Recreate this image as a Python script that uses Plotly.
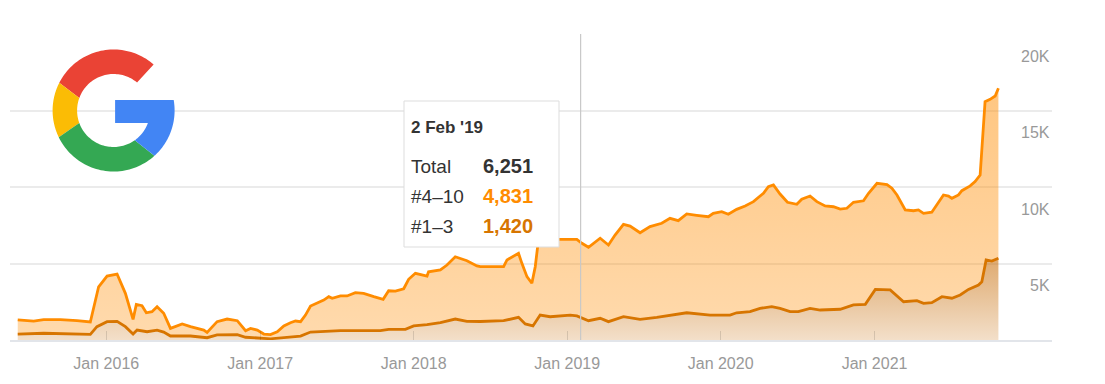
import numpy as np
import plotly.graph_objects as go
from datetime import datetime, timedelta

# ---------------- data (dates as decimal years, values in thousands) ----------------
total_t = [2015.423, 2015.527, 2015.592, 2015.701, 2015.809, 2015.896, 2015.950, 2016.005, 2016.070, 2016.124,
           2016.174, 2016.195, 2016.232, 2016.260, 2016.297, 2016.330, 2016.373, 2016.417, 2016.493, 2016.547,
           2016.633, 2016.655, 2016.720, 2016.785, 2016.851, 2016.905, 2016.937, 2016.981, 2017.024, 2017.067,
           2017.111, 2017.154, 2017.197, 2017.230, 2017.263, 2017.295, 2017.328, 2017.382, 2017.414, 2017.447,
           2017.469, 2017.523, 2017.566, 2017.620, 2017.674, 2017.740, 2017.801, 2017.837, 2017.881, 2017.935,
           2017.967, 2018.011, 2018.055, 2018.087, 2018.097, 2018.174, 2018.217, 2018.271, 2018.347, 2018.412,
           2018.434, 2018.586, 2018.608, 2018.683, 2018.705, 2018.738, 2018.770, 2018.792, 2018.813, 2018.857,
           2019.063, 2019.096, 2019.139, 2019.171, 2019.215, 2019.269, 2019.312, 2019.367, 2019.410, 2019.475,
           2019.540, 2019.616, 2019.670, 2019.724, 2019.779, 2019.844, 2019.920, 2019.952, 2020.007, 2020.050,
           2020.104, 2020.159, 2020.213, 2020.278, 2020.310, 2020.343, 2020.386, 2020.434, 2020.495, 2020.527,
           2020.581, 2020.625, 2020.679, 2020.733, 2020.777, 2020.820, 2020.863, 2020.928, 2020.961, 2021.016,
           2021.081, 2021.113, 2021.146, 2021.200, 2021.254, 2021.286, 2021.319, 2021.373, 2021.406, 2021.449,
           2021.482, 2021.504, 2021.547, 2021.569, 2021.623, 2021.655, 2021.688, 2021.699, 2021.720, 2021.753,
           2021.786, 2021.807]
total_k = [1.31, 1.24, 1.33, 1.33, 1.26, 1.18, 3.48, 4.18, 4.31, 3.05,
           1.35, 2.33, 2.24, 1.78, 1.85, 2.18, 1.75, 0.76, 1.05, 0.87,
           0.65, 0.50, 1.20, 1.37, 1.26, 0.61, 0.76, 0.65, 0.39, 0.35,
           0.54, 0.92, 1.13, 1.24, 1.20, 1.63, 2.22, 2.48, 2.61, 2.83,
           2.73, 2.88, 2.88, 3.09, 3.05, 2.83, 2.66, 3.22, 3.20, 3.35,
           3.97, 4.36, 4.27, 4.18, 4.46, 4.58, 4.90, 5.44, 5.18, 4.84,
           4.79, 4.79, 5.23, 5.67, 5.01, 4.14, 3.71, 4.79, 6.54, 6.58,
           6.58, 6.32, 6.06, 6.32, 6.65, 6.21, 6.86, 7.56, 7.45, 7.01,
           7.41, 7.63, 7.95, 7.80, 8.24, 8.15, 8.06, 8.28, 8.39, 8.22,
           8.54, 8.76, 9.04, 9.59, 10.02, 10.13, 9.54, 9.00, 8.87, 9.20,
           9.41, 9.04, 8.76, 8.71, 8.56, 8.61, 9.00, 9.10, 9.59, 10.24,
           10.15, 9.92, 9.48, 8.50, 8.45, 8.50, 8.28, 8.35, 8.82, 9.48,
           9.41, 9.26, 9.48, 9.76, 10.07, 10.35, 10.78, 12.63, 15.58, 15.73,
           15.95, 16.45]

top3_t = [2015.423, 2015.592, 2015.896, 2015.939, 2016.005, 2016.070, 2016.124, 2016.174, 2016.200, 2016.265,
          2016.330, 2016.373, 2016.417, 2016.547, 2016.655, 2016.720, 2016.851, 2016.905, 2017.067, 2017.263,
          2017.328, 2017.523, 2017.783, 2017.837, 2017.946, 2018.000, 2018.087, 2018.174, 2018.271, 2018.347,
          2018.434, 2018.586, 2018.683, 2018.727, 2018.777, 2018.824, 2018.889, 2019.020, 2019.063, 2019.139,
          2019.215, 2019.269, 2019.367, 2019.475, 2019.584, 2019.670, 2019.779, 2019.931, 2020.061, 2020.104,
          2020.191, 2020.256, 2020.332, 2020.386, 2020.451, 2020.505, 2020.581, 2020.647, 2020.777, 2020.863,
          2020.940, 2021.005, 2021.102, 2021.189, 2021.276, 2021.319, 2021.373, 2021.439, 2021.504, 2021.558,
          2021.612, 2021.677, 2021.699, 2021.727, 2021.764, 2021.807]
top3_k = [0.39, 0.44, 0.37, 0.87, 1.20, 1.22, 0.87, 0.39, 0.65, 0.54,
          0.65, 0.52, 0.26, 0.26, 0.15, 0.33, 0.35, 0.18, 0.08, 0.26,
          0.52, 0.61, 0.61, 0.70, 0.70, 0.92, 1.00, 1.13, 1.37, 1.22,
          1.21, 1.26, 1.48, 1.05, 0.92, 1.63, 1.52, 1.63, 1.57, 1.26,
          1.42, 1.20, 1.52, 1.35, 1.48, 1.63, 1.78, 1.63, 1.63, 1.78,
          1.85, 2.07, 2.18, 2.07, 1.85, 1.85, 2.07, 1.96, 2.01, 2.29,
          2.33, 3.31, 3.27, 2.50, 2.57, 2.40, 2.44, 2.83, 2.73, 2.94,
          3.31, 3.59, 3.81, 5.23, 5.16, 5.34]

x_ticks = ["2016-01-01", "2017-01-01", "2018-01-01", "2019-01-01", "2020-01-01", "2021-01-01"]
x_tick_labels = ["Jan 2016", "Jan 2017", "Jan 2018", "Jan 2019", "Jan 2020", "Jan 2021"]
y_ticks = [5000, 10000, 15000, 20000]
y_tick_labels = ["5K", "10K", "15K", "20K"]

tip_date = "2019-02-02"
tip_title = "2 Feb '19"
tip_labels = ["Total", "#4\u201310", "#1\u20133"]
tip_values = ["6,251", "4,831", "1,420"]

assert len(total_t) == len(total_k)
assert len(top3_t) == len(top3_k)


def to_date(t):
    y = int(t)
    d0 = datetime(y, 1, 1)
    n = (datetime(y + 1, 1, 1) - d0).days
    return (d0 + timedelta(days=(t - y) * n)).strftime('%Y-%m-%d %H:%M')


x_total = [to_date(t) for t in total_t]
x_top3 = [to_date(t) for t in top3_t]
y_total = [v * 1000 for v in total_k]
y_top3 = [v * 1000 for v in top3_k]

FONT = "Liberation Sans, Arial, sans-serif"
C_UP = "#ff8c00"
C_LO = "#d77500"

fig = go.Figure()
fig.add_trace(go.Scatter(
    x=x_top3, y=y_top3, mode="lines", name="#1\u20133",
    line=dict(color=C_LO, width=2.8),
    fill="tozeroy",
    fillgradient=dict(type="vertical", start=0, stop=5500,
                      colorscale=[[0, "rgba(200,110,10,0.22)"], [1, "rgba(200,110,10,0.60)"]]),
    hoverinfo="skip"))
fig.add_trace(go.Scatter(
    x=x_total, y=y_total, mode="lines", name="Total",
    line=dict(color=C_UP, width=2.8),
    fill="tonexty",
    fillgradient=dict(type="vertical", start=0, stop=17000,
                      colorscale=[[0, "rgba(255,140,0,0.32)"], [1, "rgba(255,140,0,0.50)"]]),
    hoverinfo="skip"))

# plot area pixel geometry helpers (for overlay decorations)
L, R, T, B = 10, 1052, 34, 340
def px(xp):
    return (xp - L) / (R - L)
def py(yp):
    return (B - yp) / (B - T)

shapes = []
# crosshair
shapes.append(dict(type="line", xref="x", yref="paper", x0=tip_date, x1=tip_date, y0=0, y1=1,
                   line=dict(color="#c8c8c8", width=1.2), layer="above"))
# tooltip box
shapes.append(dict(type="rect", xref="paper", yref="paper", x0=px(404), x1=px(559), y0=py(247), y1=py(101),
                   fillcolor="white", line=dict(color="#dddddd", width=1), layer="above"))

# Google "G" logo drawn as polygons
Ro, Ri = 61.0, 36.5
def arc(r, a0, a1, n=48):
    a = np.radians(np.linspace(a0, a1, n))
    return [(r * np.cos(t), r * np.sin(t)) for t in a]
def path(pts):
    return "M " + " L ".join(f"{x:.2f},{y:.2f}" for x, y in pts) + " Z"
a_top = np.degrees(np.arcsin(10.5 / Ro))
a_bot = np.degrees(np.arcsin(12.5 / Ri))
logo = [
    ("#EA4335", arc(Ro, 49, 153) + arc(Ri, 160, 50)),
    ("#FBBC05", arc(Ro, 153, 206) + arc(Ri, 200, 160)),
    ("#34A853", arc(Ro, 206, 312) + arc(Ri, 305.5, 200)),
    ("#4285F4", [(1.5, 10.5)] + arc(Ro, a_top, -48) + arc(Ri, -54.5, -a_bot) + [(1.5, -12.5)]),
]
for col, pts in logo:
    shapes.append(dict(type="path", xref="paper", yref="paper", xsizemode="pixel", ysizemode="pixel",
                       xanchor=px(113.6), yanchor=py(110.5), path=path(pts),
                       fillcolor=col, line=dict(width=0), layer="above"))

annotations = []
for v, lab in zip(y_ticks, y_tick_labels):
    annotations.append(dict(x=1, xref="paper", y=v, yref="y", text=lab, showarrow=False,
                            xanchor="right", yanchor="middle", yshift=-22,
                            font=dict(family=FONT, size=16, color="#999999")))
annotations.append(dict(x=px(409), y=py(127), xref="paper", yref="paper", text=f"<b>{tip_title}</b>",
                        showarrow=False, xanchor="left", yanchor="middle",
                        font=dict(family=FONT, size=17, color="#333333")))
val_cols = ["#333333", C_UP, C_LO]
for i, (lab, val) in enumerate(zip(tip_labels, tip_values)):
    yy = py(166 + 30 * i)
    annotations.append(dict(x=px(409), y=yy, xref="paper", yref="paper", text=lab, showarrow=False,
                            xanchor="left", yanchor="middle",
                            font=dict(family=FONT, size=19, color="#333333")))
    annotations.append(dict(x=px(481), y=yy, xref="paper", yref="paper", text=f"<b>{val}</b>", showarrow=False,
                            xanchor="left", yanchor="middle",
                            font=dict(family=FONT, size=20, color=val_cols[i])))

fig.update_layout(
    width=1105, height=384,
    margin=dict(l=L, r=1105 - R, t=T, b=384 - B),
    paper_bgcolor="white", plot_bgcolor="white",
    showlegend=False,
    font=dict(family=FONT),
    shapes=shapes, annotations=annotations,
    xaxis=dict(type="date", range=["2015-05-17", "2022-02-27"],
               tickvals=x_ticks, ticktext=x_tick_labels, showgrid=False, zeroline=False,
               ticks="inside", ticklen=9, tickcolor="rgba(0,0,0,0.12)", tickwidth=1,
               showline=True, linecolor="#e2e5ea", linewidth=2,
               tickfont=dict(family=FONT, size=16, color="#999999"), ticklabelstandoff=8,
               fixedrange=True),
    yaxis=dict(range=[0, 20000], tickvals=y_ticks, showticklabels=False, side="right",
               showgrid=True, gridcolor="#ebebeb", gridwidth=1.5, zeroline=False, fixedrange=True),
)

fig.write_html("out.html")
